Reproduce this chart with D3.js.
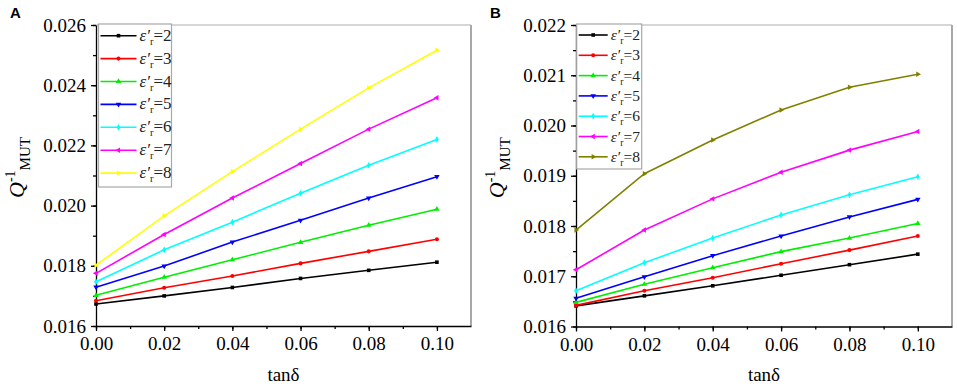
<!DOCTYPE html>
<html>
<head>
<meta charset="utf-8">
<script src="https://cdn.jsdelivr.net/npm/d3@7"></script>
<style>
  body { margin: 0; background: #fff; }
  svg { display: block; }
  .axis path, .axis line { stroke: #000; stroke-width: 1.3; }
</style>
</head>
<body>
<svg id="chart" width="957" height="387"></svg>
<script>
const SERIF = "Liberation Serif";

// tan delta values (x)
const tanDelta = [0, 0.02, 0.04, 0.06, 0.08, 0.10];
// relative permittivity for each curve
const epsR = [2, 3, 4, 5, 6, 7, 8];

// panel A, Q^-1 MUT for eps'r = 2..8
const qA = [
    [0.01673, 0.01700, 0.01728, 0.01758, 0.01785, 0.01812],
    [0.01684, 0.01727, 0.01766, 0.01808, 0.01848, 0.01888],
    [0.01702, 0.01762, 0.01820, 0.01878, 0.01935, 0.01988],
    [0.01729, 0.01799, 0.01879, 0.01951, 0.02025, 0.02096],
    [0.01747, 0.01853, 0.01945, 0.02041, 0.02134, 0.02220],
    [0.01775, 0.01904, 0.02025, 0.02140, 0.02254, 0.02358],
    [0.01802, 0.01966, 0.02113, 0.02254, 0.02391, 0.02516]
];

// panel B
const qB = [
    [0.01641, 0.01661, 0.01681, 0.01702, 0.01723, 0.01744],
    [0.01642, 0.01671, 0.01697, 0.01725, 0.01752, 0.01780],
    [0.01648, 0.01684, 0.01717, 0.01749, 0.01776, 0.01805],
    [0.01656, 0.01699, 0.01741, 0.01780, 0.01818, 0.01853],
    [0.01671, 0.01727, 0.01776, 0.01822, 0.01862, 0.01898],
    [0.01713, 0.01792, 0.01854, 0.01907, 0.01951, 0.01988],
    [0.01792, 0.01904, 0.01971, 0.02031, 0.02076, 0.02102]
];

const colorsA = ["#000000", "#ff0000", "#00ee00", "#0000ff", "#00ffff", "#ff00ff", "#ffff00"];
const colorsB = ["#000000", "#ff0000", "#00ee00", "#0000ff", "#00ffff", "#ff00ff", "#808000"];

// origin style markers: square, circle, up, down, diamond, left, right
const markers = [
    { type: d3.symbolSquare, rot: 0 },
    { type: d3.symbolCircle, rot: 0 },
    { type: d3.symbolTriangle, rot: 0 },
    { type: d3.symbolTriangle, rot: 180 },
    { type: d3.symbolDiamond, rot: 0 },
    { type: d3.symbolTriangle, rot: -90 },
    { type: d3.symbolTriangle, rot: 90 }
];

const svg = d3.select("#chart");

// d3 axes set sans-serif on the group, put the serif back on the labels
const serifTicks = a => {
    a.attr("font-family", null).attr("font-size", null);
    a.selectAll("text")
        .style("font-family", SERIF)
        .style("font-size", "19px")
        .style("fill", "#000");
};

const drawPanel = (opts) => {
    const { left, right, top, bottom, yDomain, yStep, yMinor, series, colors, tag, legend } = opts;

    const x = d3.scaleLinear().domain([0, 0.11]).range([left, right]);
    const y = d3.scaleLinear().domain(yDomain).range([bottom, top]);

    const g = svg.append("g");

    // frame (light top / right)
    g.append("line")
        .attr("x1", left).attr("x2", right)
        .attr("y1", top).attr("y2", top)
        .attr("stroke", "#d6d6d6").attr("stroke-width", 2);
    g.append("line")
        .attr("x1", right).attr("x2", right)
        .attr("y1", top).attr("y2", bottom)
        .attr("stroke", "#a8a8a8").attr("stroke-width", 2);

    const yTicks = d3.range(yDomain[0], yDomain[1] + yStep / 2, yStep);
    const yMinorTicks = d3.range(yDomain[0], yDomain[1] + yMinor / 2, yMinor);
    const xTicks = tanDelta;
    const xMinorTicks = d3.range(0, 0.105, 0.01);

    // minor ticks
    g.append("g")
        .attr("class", "axis")
        .attr("transform", `translate(${left},0)`)
        .call(d3.axisLeft(y).tickValues(yMinorTicks).tickSize(3).tickFormat(""))
        .call(a => a.select(".domain").remove());
    g.append("g")
        .attr("class", "axis")
        .attr("transform", `translate(0,${bottom})`)
        .call(d3.axisBottom(x).tickValues(xMinorTicks).tickSize(3).tickFormat(""))
        .call(a => a.select(".domain").remove());

    // major axes
    g.append("g")
        .attr("class", "axis")
        .attr("transform", `translate(${left},0)`)
        .call(d3.axisLeft(y).tickValues(yTicks).tickSize(5).tickSizeOuter(0)
            .tickPadding(5).tickFormat(d3.format(".3f")))
        .call(serifTicks);
    g.append("g")
        .attr("class", "axis")
        .attr("transform", `translate(0,${bottom})`)
        .call(d3.axisBottom(x).tickValues(xTicks).tickSize(5).tickSizeOuter(0)
            .tickPadding(6).tickFormat(d3.format(".2f")))
        .call(serifTicks);

    // series
    const line = d3.line()
        .x((d, i) => x(tanDelta[i]))
        .y(d => y(d));

    series.forEach((vals, k) => {
        g.append("path")
            .datum(vals)
            .attr("fill", "none")
            .attr("stroke", colors[k])
            .attr("stroke-width", 1.6)
            .attr("d", line);

        g.selectAll(null)
            .data(vals)
            .join("path")
            .attr("transform", (d, i) => `translate(${x(tanDelta[i])},${y(d)}) rotate(${markers[k].rot})`)
            .attr("d", d3.symbol().type(markers[k].type).size(13)())
            .attr("fill", colors[k]);
    });

    // y label
    const ylab = g.append("text")
        .attr("transform", `translate(${left - 72},${(top + bottom) / 2 - 8}) rotate(-90)`)
        .attr("text-anchor", "middle")
        .style("font-family", SERIF)
        .style("font-size", "22px");
    ylab.append("tspan").style("font-style", "italic").text("Q");
    ylab.append("tspan").style("font-size", "14px").attr("dy", -9).text("-1");
    ylab.append("tspan").style("font-size", "15px").attr("dy", 15).text("MUT");

    // x label
    g.append("text")
        .attr("x", (left + right) / 2)
        .attr("y", 381)
        .attr("text-anchor", "middle")
        .style("font-family", SERIF)
        .style("font-size", "19px")
        .text("tanδ");

    // panel tag
    g.append("text")
        .attr("x", left - 86)
        .attr("y", 18)
        .style("font-family", "Liberation Sans")
        .style("font-weight", "bold")
        .style("font-size", "15px")
        .text(tag);

    // legend
    const lg = g.append("g");
    lg.append("rect")
        .attr("x", left + legend.dx).attr("y", top - 1)
        .attr("width", legend.w).attr("height", legend.h)
        .attr("fill", "#fff")
        .attr("stroke", "#a8a8a8").attr("stroke-width", 1.2);

    epsR.forEach((e, k) => {
        const ly = legend.y0 + k * legend.step;
        const lx = left + legend.dx + 2;
        lg.append("line")
            .attr("x1", lx).attr("x2", lx + legend.len)
            .attr("y1", ly).attr("y2", ly)
            .attr("stroke", colors[k]).attr("stroke-width", 1.6);
        lg.append("path")
            .attr("transform", `translate(${lx + legend.len / 2},${ly}) rotate(${markers[k].rot})`)
            .attr("d", d3.symbol().type(markers[k].type).size(13)())
            .attr("fill", colors[k]);
        const t = lg.append("text")
            .attr("x", lx + legend.len + 3)
            .attr("y", ly + 5)
            .style("font-family", SERIF)
            .style("font-size", legend.fs + "px")
            .style("fill", "#222");
        t.append("tspan").style("font-style", "italic").text("ε′");
        t.append("tspan").style("font-size", (legend.fs * 0.62) + "px").attr("dy", 4).text("r");
        t.append("tspan").attr("dy", -4).text("=" + e);
    });
};

drawPanel({
    left: 96, right: 471, top: 25, bottom: 326,
    yDomain: [0.016, 0.026], yStep: 0.002, yMinor: 0.001,
    series: qA, colors: colorsA, tag: "A",
    legend: { dx: 2.5, w: 73, h: 163, y0: 35.7, step: 22.9, len: 36, fs: 17 }
});

drawPanel({
    left: 576, right: 952, top: 25, bottom: 326.5,
    yDomain: [0.016, 0.022], yStep: 0.001, yMinor: 0.0005,
    series: qB, colors: colorsB, tag: "B",
    legend: { dx: 0.7, w: 65, h: 145, y0: 35, step: 20.3, len: 29, fs: 15.5 }
});
</script>
</body>
</html>
